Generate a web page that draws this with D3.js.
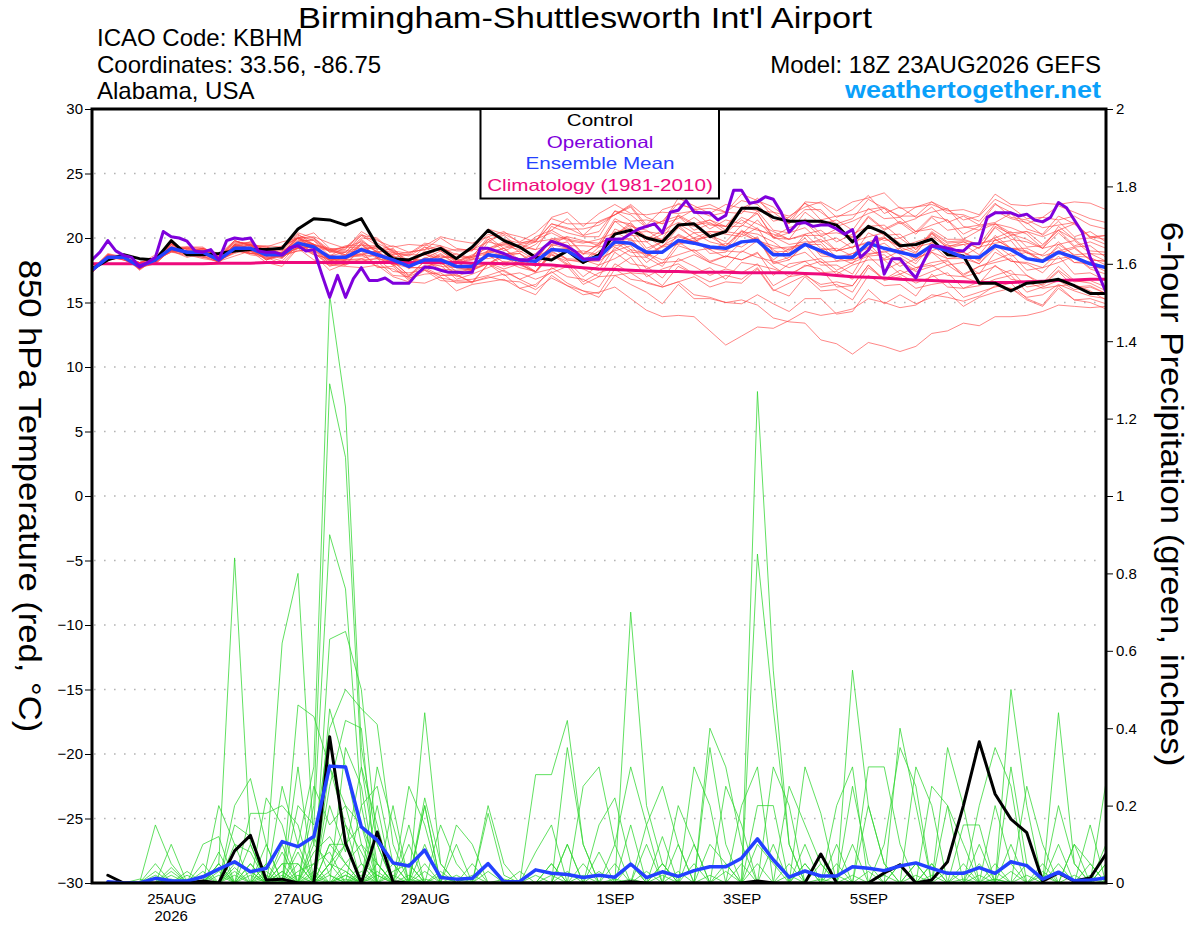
<!DOCTYPE html>
<html><head><meta charset="utf-8">
<script src="https://cdn.jsdelivr.net/npm/d3@7"></script>
<style>
html,body{margin:0;padding:0;background:#fff;}
svg{display:block;font-family:"Liberation Sans",Arial,Helvetica,sans-serif;}
</style></head><body>
<svg id="chart" width="1200" height="927"></svg>
<script>
// ---------------- text ----------------
const titleText = "Birmingham-Shuttlesworth Int'l Airport";
const infoLines = ["ICAO Code: KBHM", "Coordinates: 33.56, -86.75", "Alabama, USA"];
const modelText = "Model: 18Z 23AUG2026 GEFS";
const siteText = "weathertogether.net";
const legendLabels = ["Control", "Operational", "Ensemble Mean", "Climatology (1981-2010)"];
const leftAxisTitle = "850 hPa Temperature (red, \u00B0C)";
const rightAxisTitle = "6-hour Precipitation (green, inches)";

// ---------------- time axis ----------------
const startTime = "2026-08-23T18:00:00Z";
const endTime = "2026-09-08T18:00:00Z";
const xTickDates = ["2026-08-25T00:00:00Z","2026-08-27T00:00:00Z","2026-08-29T00:00:00Z","2026-09-01T00:00:00Z","2026-09-03T00:00:00Z","2026-09-05T00:00:00Z","2026-09-07T00:00:00Z"];
const xTickLabels = ["25AUG","27AUG","29AUG","1SEP","3SEP","5SEP","7SEP"];
const yearLabel = "2026";
const tempTicks = [-30,-25,-20,-15,-10,-5,0,5,10,15,20,25,30];
const gridTemps = [-25,-20,-15,-10,-5,0,5,10,15,20,25];
const precipTicks = [0,0.2,0.4,0.6,0.8,1,1.2,1.4,1.6,1.8,2];

// ---------------- 850 hPa temperature, 6-hourly from 23AUG 18Z ----------------
const controlTemp = [17.6,18.3,18.7,18.4,18.3,19.8,18.7,18.7, 18.8,19.0,19.1,19.1,19.2,20.7,21.5,21.4, 21.0,21.5,19.4,18.4,18.3,18.8,19.2,18.4, 19.3,20.6,19.8,19.3,18.5,18.3,19.0,18.1, 18.7,20.3,20.6,20.0,19.7,21.0,21.1,20.1, 20.5,22.3,22.3,21.6,21.3,21.3,21.3,21.0, 19.7,20.9,20.4,19.4,19.5,19.9,18.7,18.6, 16.5,16.5,15.9,16.5,16.6,16.8,16.3,15.7, 15.7];
const meanTemp = [17.5,18.5,18.5,17.8,18.3,19.2,18.9,18.9, 18.3,19.2,19.2,18.7,18.7,19.6,19.3,18.5, 18.5,19.1,18.7,18.3,17.8,18.3,18.3,17.8, 17.8,18.7,18.5,18.3,18.2,19.1,19.0,18.3, 18.5,19.7,19.6,18.9,18.9,19.8,19.6,19.3, 19.2,19.7,19.8,18.7,18.7,19.5,19.0,18.5, 18.5,19.6,19.2,18.9,18.6,19.4,19.0,18.5, 18.5,19.4,19.1,18.4,18.2,18.9,18.5,18.0, 17.7];
const climoTemp = [18.0,18.0,18.0,18.0,18.0,18.0,18.0,18.0, 18.05,18.05,18.05,18.1,18.1,18.1,18.1,18.1, 18.1,18.1,18.1,18.1,18.1,18.1,18.1,18.1, 18.05,18.05,18.0,18.0,17.95,17.9,17.8,17.7, 17.6,17.55,17.5,17.45,17.4,17.4,17.35,17.35, 17.35,17.3,17.3,17.3,17.3,17.25,17.2,17.1, 17.0,16.95,16.9,16.8,16.75,16.7,16.65,16.6, 16.55,16.55,16.55,16.6,16.65,16.7,16.75,16.8, 16.8];
// operational run, 3-hourly
const operationalTemp = [18.3,18.9,19.8,19.0,18.65,18.5,17.75,18.1, 18.5,20.5,20.1,20.0,19.75,19.0,18.9,19.1, 18.3,19.8,20.0,19.9,20.0,19.0,18.9,18.9, 18.7,19.25,19.4,19.0,19.1,17.2,15.4,17.1, 15.4,16.85,17.7,16.7,16.7,16.9,16.5,16.5, 16.5,17.2,17.75,17.7,17.5,17.35,17.35,17.3, 17.35,19.2,19.2,19.0,18.8,18.5,18.3,18.3, 18.6,19.25,19.75,19.55,19.35,18.95,18.4,18.35, 18.35,19.9,19.9,19.95,20.35,20.7,20.9,21.1, 20.4,22.0,22.15,22.9,22.0,21.95,21.95,21.4, 21.75,23.7,23.7,22.7,22.8,23.2,23.0,22.0, 20.45,21.1,21.2,20.9,21.0,21.0,20.7,20.3, 20.65,18.5,19.05,20.1,17.2,18.4,18.4,17.6, 16.9,18.2,19.4,19.35,19.2,19.05,19.0,19.55, 19.55,21.6,21.95,21.95,21.95,21.7,21.85,21.4, 21.25,21.6,22.75,22.35,21.4,20.45,18.5,17.25, 15.8];
// ensemble members
const memberTemps = [
[17.5,18.7,18.5,18.1,18.5,19.2,19.2,19.2,18.6,19.7,19.6,19.0,19.2,20.4,20.0,19.1,19.3,20.3,19.6,19.0,18.8,19.6,19.4,19.0,19.0,20.3,19.9,19.6,19.8,21.1,20.8,20.2,20.5,22.1,21.8,20.8,21.3,22.7,22.2,21.7,22.0,22.9,22.6,21.3,21.6,22.7,22.0,21.1,21.5,23.0,22.3,21.7,21.7,22.8,22.2,21.4,21.7,23.0,22.4,21.5,21.6,22.5,22.0,21.5,21.2],
[17.6,18.4,18.7,17.7,18.0,19.2,18.8,18.8,18.3,18.9,19.3,19.1,18.8,19.8,19.8,18.6,19.3,19.7,19.1,19.4,18.9,19.1,20.0,19.2,19.0,20.7,20.3,19.7,20.4,21.5,21.1,21.1,21.2,21.8,22.6,21.6,21.1,23.1,22.5,21.9,22.6,22.3,22.9,22.0,21.1,22.2,22.2,20.9,21.3,21.9,22.3,21.1,21.5,22.4,21.2,21.7,21.0,22.6,22.0,21.1,21.6,21.4,21.7,21.0,20.7],
[17.3,18.6,18.4,18.1,18.4,19.1,19.2,19.0,18.5,19.8,19.4,19.3,19.7,20.0,20.1,19.6,19.2,20.2,20.0,18.9,18.6,19.3,18.5,18.5,18.5,19.0,19.6,19.3,19.1,20.9,20.4,20.1,20.1,22.1,21.3,21.4,21.1,21.5,22.2,22.3,22.0,21.9,23.1,21.6,21.1,22.8,22.7,21.6,22.2,23.3,21.9,22.4,21.6,22.0,22.3,20.9,20.6,22.1,21.5,21.2,20.2,21.3,20.1,20.5,19.7],
[17.6,18.8,18.5,18.0,18.7,19.3,19.3,19.3,18.5,19.8,19.4,19.0,18.5,19.7,19.5,18.2,18.6,18.7,19.0,18.1,18.3,18.7,18.4,18.8,18.3,19.9,20.2,19.2,19.7,21.1,20.7,20.7,21.0,21.8,22.5,21.0,22.2,22.6,22.3,22.6,22.0,23.4,22.9,22.4,21.4,22.7,21.4,21.7,21.8,22.2,22.4,21.6,22.4,22.6,22.1,22.2,21.8,23.4,22.6,22.5,22.7,22.6,22.8,22.7,22.2],
[17.5,18.6,18.6,17.6,18.3,19.0,18.5,18.8,18.2,19.0,18.8,19.0,19.0,19.7,19.9,19.0,18.9,20.2,19.4,18.7,18.9,19.1,19.4,18.5,19.1,19.7,20.4,20.1,19.7,21.6,22.0,20.9,21.9,22.6,21.9,21.8,22.0,21.9,22.1,21.0,20.9,22.1,21.9,20.1,20.8,21.2,20.1,20.7,20.0,21.6,20.6,21.2,20.3,21.6,20.6,20.8,21.0,21.2,21.9,20.7,20.3,21.7,21.1,20.0,20.2],
[17.7,18.3,18.5,17.9,18.2,19.5,18.9,19.0,18.3,19.5,19.7,18.6,18.9,20.0,19.4,19.1,19.0,19.2,19.2,19.1,18.2,19.3,19.0,18.2,18.6,19.9,19.0,19.5,19.7,19.9,20.1,19.8,19.4,21.3,21.1,19.7,20.3,21.7,20.6,21.1,20.9,20.9,22.1,20.6,20.4,22.0,21.1,21.4,20.6,22.3,21.5,21.6,20.5,21.7,21.4,19.9,20.6,21.1,20.4,20.5,19.5,20.6,19.9,19.0,18.9],
[17.4,18.6,18.4,18.1,18.5,19.5,18.9,19.2,18.8,19.2,19.5,19.3,18.8,20.0,19.5,18.4,18.4,19.5,18.5,18.6,17.7,17.7,18.3,17.4,17.5,18.0,18.7,18.4,18.2,20.0,19.4,19.4,19.3,21.3,20.4,20.5,20.3,20.8,21.6,20.7,21.4,21.1,21.9,20.0,20.4,20.8,19.7,20.0,19.2,21.0,20.2,20.3,19.1,20.5,19.7,19.8,19.5,20.0,20.5,19.3,19.4,20.6,19.4,19.7,19.2],
[17.5,18.4,18.6,17.9,18.0,19.1,19.0,18.6,18.4,19.0,18.8,18.6,18.7,19.0,19.1,18.3,17.9,19.2,18.5,17.9,18.1,18.1,18.8,18.0,18.5,18.8,19.2,18.3,18.8,19.8,19.2,18.8,18.7,20.7,20.2,20.1,19.3,20.8,20.0,20.5,20.5,20.3,21.4,20.0,19.9,21.5,20.3,20.4,20.1,21.7,20.7,21.3,20.5,21.0,21.4,20.3,20.9,21.1,20.8,20.3,19.2,20.4,19.3,19.4,18.5],
[17.7,18.5,18.4,17.8,18.5,19.2,19.3,18.9,18.5,19.6,19.2,19.3,19.0,20.3,19.5,19.0,19.3,19.2,19.3,18.6,17.8,18.9,18.2,18.2,17.4,19.0,18.6,18.8,18.1,19.4,19.7,18.2,19.0,19.5,20.4,19.0,19.7,20.2,19.7,20.4,19.2,20.5,20.3,19.7,18.8,20.3,19.2,19.0,19.3,19.6,20.0,19.3,19.7,20.1,19.3,19.7,19.2,20.9,20.3,19.9,19.2,20.9,19.9,20.0,19.5],
[17.3,18.7,18.5,17.7,18.4,19.3,18.8,19.0,18.3,18.9,19.4,18.7,18.4,19.6,19.5,18.3,18.3,19.5,18.5,18.9,18.1,18.4,19.0,18.1,18.6,18.9,19.2,18.1,18.2,19.4,18.3,18.1,18.4,19.0,19.4,18.1,19.0,19.6,20.0,18.8,18.9,20.3,19.8,19.4,19.1,19.5,19.9,19.0,19.7,20.1,20.4,19.6,18.9,20.3,19.4,19.5,18.7,20.2,19.2,19.0,18.2,18.4,18.6,17.6,17.2],
[17.6,18.4,18.6,17.6,18.3,19.1,19.2,18.9,18.2,19.5,19.2,18.3,18.7,19.5,18.7,18.4,18.3,18.4,18.7,17.9,17.0,18.2,17.8,17.7,17.5,18.9,18.1,18.4,17.8,19.5,19.2,18.2,19.3,19.6,20.0,18.6,19.3,19.5,19.8,19.1,18.5,19.7,20.0,18.0,18.3,19.5,18.1,18.2,18.3,18.8,18.9,19.2,18.2,19.7,18.8,18.9,18.3,19.9,19.2,19.2,18.6,19.0,19.3,18.3,18.2],
[17.5,18.7,18.3,17.8,18.0,19.1,18.7,18.4,18.2,18.9,19.3,18.4,18.9,19.6,19.1,18.7,18.4,19.6,18.9,18.3,18.4,18.2,18.7,18.0,18.3,18.6,18.8,18.8,17.8,19.1,19.2,18.0,18.7,19.4,19.6,18.5,19.4,19.7,20.4,19.7,19.4,20.5,19.7,19.2,19.3,19.5,19.5,18.2,18.8,19.2,19.6,18.7,18.0,19.5,18.4,18.4,18.0,19.2,18.2,18.0,17.3,18.6,17.2,17.3,16.7],
[17.4,18.5,18.7,17.6,18.4,19.0,19.0,19.0,18.4,19.4,19.0,19.0,18.5,19.3,19.3,18.3,18.5,18.6,18.7,18.0,17.7,17.7,18.2,17.0,17.5,18.1,17.6,18.0,17.3,18.7,17.9,17.7,17.5,19.3,18.6,18.5,17.8,19.4,19.0,19.2,19.0,18.9,19.8,18.3,19.2,19.6,19.1,19.2,18.6,20.4,19.8,20.0,19.1,20.4,19.2,19.5,19.6,19.8,20.2,18.8,18.7,19.7,18.6,18.5,17.9],
[17.7,18.4,18.5,18.0,18.3,19.5,19.1,19.0,18.3,19.7,19.5,18.8,19.4,20.0,20.0,18.9,19.4,19.4,19.4,18.3,18.2,18.8,18.0,17.7,17.6,18.7,17.8,18.2,17.4,18.7,18.2,17.0,17.9,18.4,19.1,17.6,18.1,18.2,18.7,18.1,17.7,19.0,18.5,18.2,17.7,18.2,18.4,17.5,18.1,18.6,18.7,17.8,18.4,18.9,18.4,18.6,18.0,19.5,18.6,18.9,18.3,18.8,19.2,18.3,18.2],
[17.5,18.6,18.3,17.8,18.5,19.0,18.6,19.0,18.1,19.4,18.8,18.7,18.5,19.7,18.8,18.3,18.5,18.7,18.0,18.2,17.1,17.9,17.9,16.8,17.2,17.7,18.2,17.7,17.4,18.9,18.4,18.3,17.9,19.7,18.9,18.8,18.3,18.7,19.1,18.2,18.6,18.3,18.9,17.1,18.0,18.2,17.3,17.4,16.8,18.6,17.5,18.1,17.4,17.8,18.2,17.2,17.8,18.1,18.4,17.1,16.5,17.8,16.7,16.5,15.9],
[17.6,18.7,18.5,17.7,18.2,19.6,18.9,19.1,18.7,19.1,19.5,18.6,18.2,19.5,18.9,17.8,18.2,18.2,18.4,17.4,17.3,17.5,17.1,17.1,16.6,18.0,17.4,16.8,17.3,17.6,18.0,16.6,17.3,17.7,18.5,17.0,17.6,18.0,17.2,17.7,16.8,18.1,17.9,17.6,17.2,17.8,18.2,17.2,17.9,18.3,18.3,17.2,17.7,17.9,17.1,17.0,16.5,17.9,16.8,16.6,16.1,16.3,16.4,15.9,15.2],
[17.4,18.6,18.7,17.7,18.3,18.9,19.0,18.6,18.1,19.2,18.7,18.5,18.0,19.3,18.7,17.5,18.0,18.1,18.2,17.1,17.0,17.6,16.9,16.7,16.8,17.1,17.5,16.8,16.2,17.7,17.0,16.8,16.2,18.0,17.3,17.2,16.3,17.8,17.2,16.6,17.1,16.8,17.7,16.0,15.5,17.0,15.9,16.0,15.2,17.1,16.3,16.4,15.5,17.2,16.2,16.1,16.3,16.8,17.1,15.8,16.2,16.7,16.0,16.2,15.7],
[17.7,18.5,18.4,18.0,18.2,19.3,18.8,19.1,18.2,19.4,19.5,18.3,18.7,19.2,19.3,18.2,18.3,19.0,17.7,17.8,16.7,17.5,16.7,16.6,16.6,16.9,17.2,16.1,16.4,17.4,16.5,15.9,15.7,17.6,16.8,16.6,16.2,16.6,17.0,16.2,16.6,16.5,17.6,15.9,16.5,17.1,16.4,16.6,16.3,17.9,16.7,17.0,16.1,16.4,16.6,15.4,15.8,16.2,16.5,15.3,14.8,16.3,15.2,15.0,14.5],
[17.5,18.4,18.6,17.6,18.3,18.9,18.7,18.5,18.2,18.6,19.0,18.1,17.8,19.2,18.3,17.9,17.8,17.7,17.9,17.0,16.6,16.5,17.0,15.9,16.4,16.6,16.8,16.1,15.6,17.1,16.3,15.9,15.4,17.1,16.4,15.8,14.9,16.4,15.3,15.3,15.0,14.9,15.6,14.9,14.3,15.3,15.3,14.1,14.3,16.0,14.9,15.6,14.9,15.4,15.8,14.7,15.4,15.8,16.1,15.2,14.7,16.1,15.2,15.3,14.9],
[17.6,18.6,18.3,17.9,18.3,19.0,19.0,18.9,18.1,19.4,19.1,18.3,18.8,19.2,19.1,17.9,18.3,18.3,18.4,18.0,16.8,17.7,17.1,17.2,16.5,18.0,17.1,17.3,16.8,17.3,17.8,16.4,17.0,17.1,17.3,16.5,16.2,16.6,15.6,15.4,15.0,15.2,14.8,13.8,13.5,13.4,12.1,11.8,11.0,11.9,11.6,11.2,11.6,12.6,12.8,13.4,13.2,13.9,13.9,14.0,14.3,14.8,14.7,14.6,14.7],
[17.4,18.7,18.6,17.7,18.4,19.2,18.8,19.1,18.4,19.3,19.0,18.4,18.6,19.4,18.8,18.0,17.9,18.4,17.8,17.6,16.9,17.2,17.3,16.5,16.6,17.0,16.7,16.6,16.0,16.9,16.3,15.6,15.8,16.2,15.3,14.4,13.9,14.0,13.9,12.8,11.7,12.4,13.1,13.0,13.6,14.3,14.0,14.2,14.5,15.3,15.0,14.6,14.8,15.6,15.4,15.1,15.5,16.3,16.1,15.4,15.6,16.4,15.9,15.5,15.3],
[17.3,18.5,18.7,18.1,18.3,19.5,19.1,19.0,18.7,19.8,19.4,19.4,19.3,20.0,20.4,19.2,19.1,20.5,19.8,19.3,19.5,19.4,20.1,19.8,19.6,20.1,20.5,19.6,19.9,20.4,19.8,19.6,19.9,20.4,20.8,19.2,19.7,21.0,19.9,20.1,19.4,20.6,19.9,19.1,18.3,19.6,18.8,18.5,18.3,18.7,19.0,18.2,17.5,18.9,17.9,18.1,17.2,18.9,18.2,18.1,17.7,18.1,18.6,17.7,17.7],
[17.7,18.3,18.5,17.8,18.4,19.0,18.9,18.5,18.4,19.1,19.0,19.0,18.6,19.9,19.3,19.0,18.7,19.8,18.9,19.2,18.0,18.8,19.2,18.2,18.7,19.2,19.7,18.9,19.5,20.6,19.9,19.7,19.6,21.5,20.9,20.6,19.8,21.1,20.4,20.5,20.3,20.1,20.8,18.9,19.0,20.0,18.6,18.5,18.0,19.6,18.3,18.5,17.7,18.1,18.3,17.0,17.3,17.8,17.2,17.1,16.3,17.4,16.2,16.3,15.7],
[17.5,18.7,18.4,17.6,18.4,19.6,18.9,19.2,18.2,19.5,19.6,18.6,18.9,19.4,19.5,18.4,18.7,18.7,18.9,17.9,18.0,18.4,18.0,18.1,17.5,19.1,18.7,19.0,18.3,19.8,20.0,18.7,19.6,20.2,21.2,19.9,20.6,21.2,20.9,21.4,20.6,21.6,21.1,20.5,19.9,20.2,20.2,19.0,19.3,19.7,20.1,19.0,19.3,19.6,18.7,18.9,18.2,19.9,19.2,18.9,18.1,19.5,18.7,18.8,18.2],
[17.6,18.4,18.7,17.7,18.1,19.1,18.9,18.7,18.4,19.5,19.0,19.1,18.8,20.2,19.8,18.9,18.9,20.0,19.9,18.8,18.7,19.5,19.0,19.1,19.1,19.2,19.5,19.3,18.4,19.8,19.3,18.2,18.3,20.0,19.1,18.8,18.0,19.7,18.9,18.1,18.6,18.3,18.8,17.8,17.0,17.9,17.6,16.2,16.3,17.9,16.8,17.2,16.5,17.0,17.3,16.1,16.6,17.1,17.5,16.2,16.4,17.5,16.6,16.7,16.2],
[17.4,18.6,18.5,17.9,18.5,19.0,19.3,19.2,18.7,19.3,19.7,19.0,18.8,20.1,19.5,19.1,18.6,19.6,18.5,18.7,17.6,18.5,18.1,17.2,17.7,18.0,18.5,17.9,17.4,19.0,18.3,18.2,18.2,19.1,19.9,18.7,19.4,20.1,19.7,20.2,19.7,21.0,20.6,20.3,19.9,20.3,20.6,19.7,20.3,20.9,21.0,20.0,20.5,20.7,19.9,19.9,19.5,21.1,20.2,20.5,20.1,20.6,21.1,20.1,20.2],
[17.7,18.5,18.3,18.0,18.2,19.2,18.7,18.9,18.1,19.2,18.8,18.8,18.5,19.3,19.3,18.0,18.6,18.8,19.0,18.0,18.3,18.3,18.6,18.4,17.9,19.7,19.4,19.1,20.1,20.6,21.5,20.2,21.3,21.8,22.4,20.8,21.3,21.7,21.0,21.2,20.4,21.4,20.7,20.1,19.5,19.7,19.7,18.5,18.8,19.3,20.0,19.3,18.8,20.4,19.6,19.7,19.2,20.8,19.9,19.7,19.2,19.5,19.8,18.8,18.7],
[17.3,18.6,18.6,17.7,18.3,19.4,18.8,19.2,18.6,19.1,19.5,18.8,19.3,20.0,19.5,19.2,18.7,19.9,18.9,19.0,17.9,19.0,18.4,18.0,18.4,18.4,18.7,18.0,17.4,18.8,18.0,17.6,17.0,18.9,18.0,17.8,16.9,18.4,17.8,17.1,17.6,17.3,18.0,16.3,17.0,17.2,16.2,16.4,15.8,17.7,16.8,17.5,16.9,17.4,17.9,17.1,17.8,18.3,18.8,17.5,17.7,18.9,18.1,18.2,17.7],
[17.6,18.3,18.5,18.0,18.1,19.2,19.0,18.8,18.1,19.4,18.9,19.0,18.7,20.0,19.2,18.6,18.9,19.0,19.4,18.5,18.7,18.7,19.3,18.7,18.5,20.1,19.2,19.5,19.1,19.5,20.1,18.8,19.5,20.3,21.0,20.1,19.9,21.8,21.1,21.4,20.9,22.4,22.1,22.0,21.7,22.4,22.8,22.1,22.8,23.1,23.5,22.3,22.4,22.8,21.9,21.8,21.3,22.7,21.6,21.4,20.8,21.0,21.2,20.1,19.9],
[17.5,18.6,18.6,17.5,18.4,19.0,18.8,19.0,18.3,18.8,19.2,18.5,18.6,19.0,19.1,18.1,18.0,19.2,18.4,18.2,17.1,18.2,17.6,17.5,17.6,18.0,18.7,18.0,18.5,19.2,18.9,19.0,18.7,20.5,19.8,19.7,18.8,20.3,19.7,19.1,19.6,19.3,20.1,18.1,18.5,18.9,17.9,17.9,17.2,19.2,18.4,19.0,18.4,19.0,19.5,18.6,19.3,19.6,19.8,18.3,18.3,19.3,18.1,18.0,17.4]
];

// ---------------- 6-hour precipitation (inches), from 24AUG 00Z ----------------
const controlPrecip = [0.02,0,0,0,0,0,0.005,0, 0.083,0.123,0.008,0.01,0,0,0.378,0.103, 0,0.132,0.003,0,0,0,0,0, 0,0,0,0,0,0,0,0, 0,0.003,0,0,0,0,0,0, 0,0.005,0,0,0,0.075,0,0, 0,0.026,0.047,0,0.008,0.055,0.2,0.365, 0.23,0.165,0.13,0.005,0.026,0.005,0.013,0.075];
const meanPrecip = [0.003,0,0,0.012,0.006,0.005,0.016,0.036, 0.055,0.029,0.038,0.107,0.094,0.12,0.302,0.3, 0.145,0.111,0.052,0.044,0.085,0.014,0.01,0.012, 0.05,0.003,0.004,0.034,0.025,0.022,0.014,0.02, 0.015,0.049,0.014,0.029,0.017,0.032,0.042,0.042, 0.064,0.114,0.06,0.015,0.031,0.018,0.018,0.042, 0.038,0.032,0.044,0.052,0.038,0.025,0.025,0.04, 0.025,0.055,0.045,0.01,0.028,0.006,0.008,0.013];
const memberPrecip = [
[0,0,0,0,0,0,0,.05,.84,.1,0,.03,0,0,.3,.2,.05,0,0,0,.1,0,0,0,0,0,0,0,0,0,0,0,0,.05,0,0,0,0,0,0,0,.1,.05,0,0,0,0,0,0,0,.05,0,0,0,0,0,0,.1,0,0,0,0,0,0],
[0,0,0,0,0,0,0,0,0,0,.05,.62,.8,.1,.05,.1,.15,.05,0,0,0,0,0,0,0,0,0,0,.05,0,0,0,0,0,0,0,0,0,.1,.05,0,0,0,0,0,0,0,.1,0,0,0,0,0,0,.05,0,0,0,0,0,0,0,0,0],
[0,0,0,0,0,0,0,0,0,0,0,0,.1,.3,1.52,1.23,.35,.1,0,.05,0,0,0,0,.05,0,0,0,0,0,0,0,0,0,0,.05,0,0,0,0,0,0,0,0,.1,0,0,0,0,0,0,0,.05,0,0,0,0,0,0,0,.1,0,0,0],
[0,0,0,0,0,0,0,0,0,0,0,0,0,.2,1.29,1.1,.3,.05,0,0,.2,0,0,0,0,0,0,0,0,.1,0,0,0,0,0,0,0,0,0,0,0,1.27,.55,.1,0,0,0,0,0,0,0,.05,0,0,0,0,0,0,0,.05,0,0,0,0],
[0,0,0,0,0,0,0,0,0,.05,0,0,.2,.15,.9,.76,.2,.25,.05,0,0,0,0,0,0,0,0,.28,.28,.42,.1,0,0,0,0,0,0,0,0,.05,0,0,0,0,0,0,0,0,0,0,0,0,0,0,0,.1,0,0,0,0,0,0,0,0],
[0,0,0,0,0,0,0,0,0,0,0,.25,.1,0,.63,.65,.5,.1,0,0,.44,.05,0,0,0,0,0,0,0,0,0,0,0,.7,.2,.05,0,0,0,0,0,0,0,0,0,0,.1,0,0,0,0,0,0,0,0,0,.05,0,0,0,0,0,0,0],
[0,0,0,.15,.05,0,0,.2,.1,0,0,0,0,0,.45,.3,.1,0,0,0,0,0,0,0,.2,.05,0,0,0,0,0,0,0,0,0,0,0,0,0,0,0,.85,.45,.1,0,0,0,0,0,0,0,0,0,0,0,0,0,.5,.2,0,0,0,.05,0],
[0,0,0,0,.1,0,0,0,.2,.27,.1,0,0,.1,.4,.5,.45,.41,.1,0,0,0,0,0,0,0,0,0,0,0,.25,.3,.1,0,0,0,0,0,0,0,0,0,0,0,0,0,0,.55,.2,.05,0,0,0,0,0,0,0,0,0,0,0,0,0,.1],
[0,0,0,0,0,0,.1,.12,0,.18,.18,.2,.15,0,0,.35,.25,0,0,.25,.15,0,0,0,0,0,0,0,0,0,0,0,0,0,0,0,0,0,.4,.3,.1,0,0,0,0,0,0,0,0,0,.4,.2,0,0,0,0,0,0,0,0,0,.1,0,0],
[0,0,0,0,0,0,0,0,.15,.12,0,0,.46,.43,.3,.15,0,.2,0,0,0,0,.15,.1,0,0,0,0,0,0,0,0,0,0,.15,.25,.1,0,0,0,0,0,0,0,0,0,0,0,0,0,0,0,0,.35,.2,0,0,0,0,0,0,0,0,.26],
[0,0,0,0,0,0,0,.08,0,0,.22,.15,0,0,.25,.42,.4,0,.2,0,.22,.05,0,0,0,0,0,0,0,0,0,.15,.22,.05,0,0,0,0,0,0,0,0,0,0,.3,.18,0,0,0,0,0,0,0,0,0,0,0,0,0,0,.44,.05,0,0],
[0,0,0,.05,0,0,0,0,.1,.08,0,0,0,0,.2,.08,.3,.15,0,.15,0,0,0,0,0,0,0,0,0,.35,.1,0,0,0,0,0,0,.3,.2,0,0,0,0,0,0,0,0,0,.3,.3,.1,0,0,0,0,0,0,.3,.05,0,0,0,0,0],
[0,0,0,0,0,.03,0,.05,0,0,0,.1,0,.25,.15,.2,.15,0,0,0,.2,0,.1,0,0,0,0,.08,.15,0,0,0,0,0,0,0,0,0,0,0,0,0,.3,.2,0,0,0,0,0,0,0,0,.25,.2,0,0,0,0,0,0,0,0,.15,0],
[0,0,0,0,.04,0,0,0,0,.1,0,0,.3,0,.1,.1,0,.3,.15,0,0,0,0,0,.18,.02,0,0,0,0,0,0,0,0,0,0,.2,.1,0,0,0,0,0,0,0,0,.2,.3,0,0,0,0,0,0,0,.2,.35,.25,0,0,0,0,0,0],
[0,0,0,0,0,0,.05,0,0,0,.1,0,0,.05,.08,0,.2,0,0,.1,0,.15,.05,0,0,0,0,0,0,0,0,0,.1,.3,.15,0,0,0,0,0,.2,.3,0,0,0,0,0,0,0,0,0,.3,.2,0,0,0,0,0,0,0,0,0,0,.05],
[0,0,0,.03,0,0,0,.03,0,0,0,.05,.05,0,.05,.03,0,0,.05,0,0,0,0,.05,0,0,0,0,0,0,0,0,0,0,0,.12,0,0,0,.25,.15,0,0,0,0,0,0,0,0,.1,.35,.25,0,0,0,0,0,0,.25,.1,0,0,0,0],
[0,0,0,0,0,0,0,0,.05,.03,0,0,0,.08,.12,.05,.1,.05,0,0,0,0,0,0,0,0,.03,0,0,0,0,0,0,0,0,0,0,.1,0,0,0,0,0,.25,.15,.05,0,0,0,0,0,0,0,0,.15,.15,0,0,0,0,0,.1,.05,0],
[0,0,0,0,.02,0,0,0,0,0,.05,0,.08,0,.05,.15,.08,0,0,0,.05,0,0,0,0,0,0,0,0,.1,0,.08,0,0,0,0,0,0,0,0,0,.2,.2,0,0,0,0,0,.2,.05,0,0,0,0,0,0,.2,.05,0,0,0,0,0,0],
[0,0,0,0,0,0,0,.02,0,0,0,.08,0,.12,.02,0,.05,.02,0,0,0,.03,0,0,0,0,0,0,0,0,0,0,0,0,.1,0,.1,0,0,0,0,0,0,0,.05,0,0,0,0,0,0,0,0,.2,.1,0,0,0,0,0,.2,.05,0,0],
[0,0,0,0,0,.02,0,0,0,.05,0,.03,0,0,.03,.1,0,0,.03,.05,0,0,0,0,0,0,0,0,.05,0,.05,0,0,0,0,0,0,0,.35,.1,0,0,0,0,0,0,0,.25,.05,0,0,0,0,0,0,.05,0,0,0,0,0,0,0,.05],
[0,0,0,0,0,0,.03,0,.03,0,0,0,.03,.05,0,.02,0,.05,0,0,0,0,.02,0,0,0,0,0,0,0,0,0,.05,0,0,.05,0,0,0,0,0,0,0,.05,0,0,.05,0,0,0,0,0,.05,0,0,0,0,0,.05,0,0,0,0,0],
[0,0,.01,0,0,0,0,.05,0,0,.02,0,0,0,.1,.05,0,0,0,0,.03,0,0,0,.03,0,0,0,0,0,0,0,0,.15,0,0,0,.05,0,0,0,0,0,0,0,.05,0,0,0,0,0,.05,0,0,0,0,0,0,0,.02,0,0,0,0],
[0,0,0,.02,0,0,0,0,.02,0,0,.05,0,.02,0,0,.03,0,0,.02,0,0,0,0,0,0,0,.02,0,0,0,.03,0,0,0,0,0,0,0,0,.05,0,0,0,0,0,0,0,0,.02,0,0,0,0,0,0,.03,0,0,0,0,0,.02,0],
[0,0,0,0,.03,0,0,0,0,.02,0,0,.05,0,0,.05,0,.03,0,0,0,0,0,.02,0,0,0,0,0,0,0,0,0,0,0,0,.03,0,0,0,0,0,.1,0,0,0,0,0,0,0,.05,0,0,0,.03,0,0,0,0,0,.05,0,0,0],
[0,0,0,0,0,0,0,.04,0,0,.03,0,0,0,.05,0,.02,0,.02,0,0,0,0,0,0,0,0,0,0,.03,0,0,0,0,0,0,0,0,.02,0,0,0,0,0,.05,0,0,0,0,0,0,0,0,.03,0,0,0,.03,0,0,0,0,0,.02],
[0,0,0,0,0,.01,0,0,0,.03,0,0,0,.03,0,.03,0,0,0,0,0,.02,0,0,0,0,0,0,0,0,0,0,0,0,.03,0,0,0,0,0,0,.05,0,0,0,0,0,0,.03,0,0,0,0,0,0,.02,0,0,0,0,0,.02,0,0],
[0,0,0,0,0,0,.02,0,0,0,0,.02,0,0,.02,0,0,.02,0,0,0,0,0,0,0,.01,0,0,0,0,.02,0,0,0,0,0,0,0,0,.03,0,0,0,0,0,0,.02,0,0,0,0,0,.02,0,0,0,0,0,0,.03,0,0,0,0],
[0,0,0,0,0,0,0,0,.04,0,0,0,.02,0,0,.02,0,0,0,.01,0,0,0,0,0,0,0,0,.02,0,0,0,0,0,0,.02,0,0,0,0,0,0,0,.02,0,0,0,0,0,0,0,.02,0,0,0,0,0,0,.02,0,0,0,0,0],
[0,0,0,0,.01,0,0,0,0,0,.01,0,0,.01,0,0,.01,0,0,0,0,0,.01,0,0,0,0,0,0,0,0,0,0,.01,0,0,0,0,0,0,0,0,0,0,0,.01,0,0,0,0,0,0,0,0,0,0,.01,0,0,0,0,0,.01,0],
[0,0,0,.01,0,0,0,0,0,0,0,.01,0,0,0,.01,0,0,0,0,.01,0,0,0,0,0,0,0,0,0,0,0,.01,0,0,0,0,0,0,0,0,0,0,0,0,0,0,.02,0,0,0,0,0,0,.01,0,.01,0,0,0,0,0,0,0]
];

// ---------------- layout ----------------
const FONT = '"Liberation Sans", Arial, Helvetica, sans-serif';
const plot = {left: 92, right: 1106, top: 109, bottom: 883};
const HOUR = 3600 * 1000;
const t0 = new Date(startTime).getTime();
const tempTimes = controlTemp.map((_, i) => new Date(t0 + i * 6 * HOUR));
const opTimes = operationalTemp.map((_, i) => new Date(t0 + i * 3 * HOUR));
const precipTimes = controlPrecip.map((_, i) => new Date(t0 + (i + 1) * 6 * HOUR));

const x = d3.scaleUtc().domain([new Date(startTime), new Date(endTime)]).range([plot.left, plot.right]);
const yT = d3.scaleLinear().domain([-30, 30]).range([plot.bottom, plot.top]);
const yP = d3.scaleLinear().domain([0, 2]).range([plot.bottom, plot.top]);

const svg = d3.select("#chart");
svg.append("rect").attr("width", 1200).attr("height", 927).attr("fill", "#fff");
svg.append("defs").append("clipPath").attr("id", "plotClip").append("rect")
  .attr("x", plot.left).attr("y", plot.top)
  .attr("width", plot.right - plot.left).attr("height", plot.bottom - plot.top);

// gridlines
svg.append("g").selectAll("line").data(gridTemps).join("line")
  .attr("x1", plot.left + 2).attr("x2", plot.right - 2)
  .attr("y1", d => yT(d)).attr("y2", d => yT(d))
  .attr("stroke", "#b4b4b4").attr("stroke-width", 1.3).attr("stroke-dasharray", "1.6,8.4");

const dataG = svg.append("g").attr("clip-path", "url(#plotClip)");
const lineTemp = d3.line().x((d, i) => x(tempTimes[i])).y(d => yT(d));
const lineOp = d3.line().x((d, i) => x(opTimes[i])).y(d => yT(d));
const linePrecip = d3.line().x((d, i) => x(precipTimes[i])).y(d => yP(d));

dataG.append("g").selectAll("path").data(memberPrecip).join("path")
  .attr("d", linePrecip).attr("fill", "none")
  .attr("stroke", "#2fd62f").attr("stroke-opacity", 0.85).attr("stroke-width", 0.9);
dataG.append("g").selectAll("path").data(memberTemps).join("path")
  .attr("d", lineTemp).attr("fill", "none")
  .attr("stroke", "#ff4040").attr("stroke-opacity", 0.7).attr("stroke-width", 0.9);

function thick(g, d, gen, color, w) {
  g.append("path").datum(d).attr("d", gen).attr("fill", "none")
    .attr("stroke", color).attr("stroke-width", w)
    .attr("stroke-linejoin", "round").attr("stroke-linecap", "round");
}
thick(dataG, climoTemp, lineTemp, "#ee0a7c", 3);
thick(dataG, controlPrecip, linePrecip, "#000000", 3);
thick(dataG, controlTemp, lineTemp, "#000000", 3);
thick(dataG, meanPrecip, linePrecip, "#2341ff", 3.5);
thick(dataG, meanTemp, lineTemp, "#2341ff", 3.5);
thick(dataG, operationalTemp, lineOp, "#7f00dc", 3);

// axes
const axL = svg.append("g").attr("transform", `translate(${plot.left},0)`)
  .call(d3.axisLeft(yT).tickValues(tempTicks).tickSize(7).tickPadding(2).tickFormat(d3.format("d")));
const axR = svg.append("g").attr("transform", `translate(${plot.right},0)`)
  .call(d3.axisRight(yP).tickValues(precipTicks).tickSize(7).tickPadding(3).tickFormat(d => String(+d.toFixed(1))));
const axB = svg.append("g").attr("transform", `translate(0,${plot.bottom})`)
  .call(d3.axisBottom(x).tickValues(xTickDates.map(d => new Date(d))).tickSize(0).tickPadding(10)
    .tickFormat((d, i) => xTickLabels[i]));
[axL, axR, axB].forEach(a => {
  a.attr("font-family", FONT).attr("font-size", 15);
  a.select(".domain").remove();
  a.selectAll(".tick line").attr("stroke", "#000").attr("stroke-width", 1);
  a.selectAll(".tick text").attr("fill", "#000");
});
svg.append("text").attr("x", x(new Date(xTickDates[0]))).attr("y", 920.5)
  .attr("text-anchor", "middle").attr("font-size", 15).text(yearLabel);

// frame
svg.append("rect").attr("x", plot.left).attr("y", plot.top)
  .attr("width", plot.right - plot.left).attr("height", plot.bottom - plot.top)
  .attr("fill", "none").attr("stroke", "#000").attr("stroke-width", 3);

// legend
const legendColors = ["#000000", "#7f00dc", "#2341ff", "#ee0a7c"];
const legendBase = [126.3, 147.7, 169.2, 190.8];
svg.append("rect").attr("x", 480.5).attr("y", 109).attr("width", 238.5).attr("height", 89.5)
  .attr("fill", "#fff").attr("stroke", "#000").attr("stroke-width", 2);
legendLabels.forEach((t, i) => {
  svg.append("text").attr("transform", `translate(600,${legendBase[i]}) scale(1.25,1)`)
    .attr("text-anchor", "middle").attr("font-size", 16.5).attr("fill", legendColors[i]).text(t);
});

// titles
svg.append("text").attr("transform", "translate(585,27.5) scale(1.186,1)")
  .attr("text-anchor", "middle").attr("font-size", 29).attr("fill", "#000").text(titleText);
infoLines.forEach((t, i) => {
  svg.append("text").attr("x", 97).attr("y", 46.3 + i * 26.4)
    .attr("font-size", 24).attr("fill", "#000").text(t);
});
svg.append("text").attr("x", 1101).attr("y", 72.5).attr("text-anchor", "end")
  .attr("font-size", 24).attr("fill", "#000").text(modelText);
svg.append("text").attr("transform", "translate(1101,97.5) scale(1.1,1)").attr("text-anchor", "end")
  .attr("font-size", 24.5).attr("font-weight", "bold").attr("fill", "#0aa0fa").text(siteText);

// axis titles (read top to bottom)
svg.append("text").attr("transform", "translate(19,496) rotate(90) scale(1.116,1)")
  .attr("text-anchor", "middle").attr("font-size", 31).attr("fill", "#000").text(leftAxisTitle);
svg.append("text").attr("transform", "translate(1161,494) rotate(90) scale(1.125,1)")
  .attr("text-anchor", "middle").attr("font-size", 31).attr("fill", "#000").text(rightAxisTitle);
</script>
</body></html>
